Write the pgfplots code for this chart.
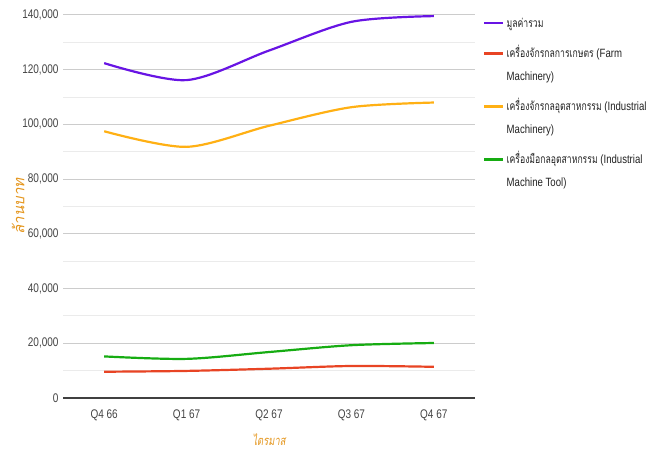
\documentclass[border=0pt]{standalone}
\usepackage{pgfplots}
\pgfplotsset{compat=1.18}
\usepackage{fontspec}
\setmainfont{Liberation Sans}[FakeStretch=0.8]
\newfontfamily\thaifont[Script=Thai,FakeStretch=0.72]{Loma}
\newfontfamily\thaiwide[Script=Thai]{Loma}
\newcommand{\thai}[1]{{\thaifont #1}}
\definecolor{cPur}{RGB}{104,20,228}
\definecolor{cRed}{RGB}{232,68,36}
\definecolor{cOra}{RGB}{255,176,20}
\definecolor{cGre}{RGB}{22,172,18}
\definecolor{cLab}{RGB}{228,150,30}
\definecolor{cTick}{RGB}{68,68,68}
\definecolor{cLeg}{RGB}{34,34,34}
\newcommand{\rA}{\rule{0pt}{17pt}}
\newcommand{\rB}{\rule{0pt}{25pt}}
\begin{document}
\begin{tikzpicture}
\path[use as bounding box] (0,0) rectangle (663pt,454pt);
\begin{axis}[
  at={(63pt,56pt)}, anchor=south west,
  scale only axis, width=412pt, height=383pt,
  xmin=-0.5, xmax=4.5, ymin=0, ymax=140000,
  xtick=data, xticklabels={Q4 66,Q1 67,Q2 67,Q3 67,Q4 67},
  ytick={0,20000,...,140000},
  minor ytick={10000,30000,...,130000},
  scaled y ticks=false,
  /pgf/number format/assume math mode=true,
  yticklabel style={/pgf/number format/fixed, /pgf/number format/1000 sep={,}},
  ymajorgrids, yminorgrids,
  major grid style={draw=black!20, line width=1pt},
  minor grid style={draw=black!8, line width=1pt},
  axis line style={draw=none},
  major tick length=0pt, minor tick length=0pt,
  tick label style={font=\fontsize{12.5}{15}\selectfont, text=cTick},
  xticklabel style={yshift=-8pt},
  yticklabel style={xshift=-1pt},
  xlabel={\thaifont\itshape ไตรมาส},
  ylabel={\thaiwide\itshape ล้านบาท},
  xlabel style={font=\fontsize{13}{15}\selectfont, text=cLab, yshift=-6pt},
  ylabel style={font=\fontsize{15}{17}\selectfont, text=cLab, yshift=-9pt},
  clip=false,
  legend cell align=left,
  legend style={draw=none, fill=none, at={(1,1)}, anchor=north west,
    xshift=5pt, yshift=9pt,
    font=\fontsize{12}{15}\selectfont, text=cLeg,
    row sep=0pt,
    cells={anchor=base west, text depth=4pt}},
  legend image code/.code={\draw[#1, line width=2.5pt] (0pt,4pt) -- (19pt,4pt);},
  every axis plot/.append style={line width=2.2pt, smooth, tension=0.5, no markers},
]
\draw[black!75, line width=1.2pt] (axis cs:-0.5,0) -- (axis cs:4.5,0);
\addplot[cPur] coordinates {(0,122400) (1,116200) (2,127000) (3,137500) (4,139600)};
\addlegendentry{\rA\thai{มูลค่ารวม}}
\addplot[cRed] coordinates {(0,9600) (1,9900) (2,10700) (3,11700) (4,11400)};
\addlegendentry{\rB\thai{เครื่องจักรกลการเกษตร} (Farm}
\addlegendimage{empty legend}
\addlegendentry{\rA Machinery)}
\addplot[cOra] coordinates {(0,97500) (1,91800) (2,99500) (3,106300) (4,108000)};
\addlegendentry{\rB\thai{เครื่องจักรกลอุตสาหกรรม} (Industrial}
\addlegendimage{empty legend}
\addlegendentry{\rA Machinery)}
\addplot[cGre] coordinates {(0,15200) (1,14300) (2,16800) (3,19300) (4,20100)};
\addlegendentry{\rB\thai{เครื่องมือกลอุตสาหกรรม} (Industrial}
\addlegendimage{empty legend}
\addlegendentry{\rA Machine Tool)}
\end{axis}
\end{tikzpicture}
\end{document}
